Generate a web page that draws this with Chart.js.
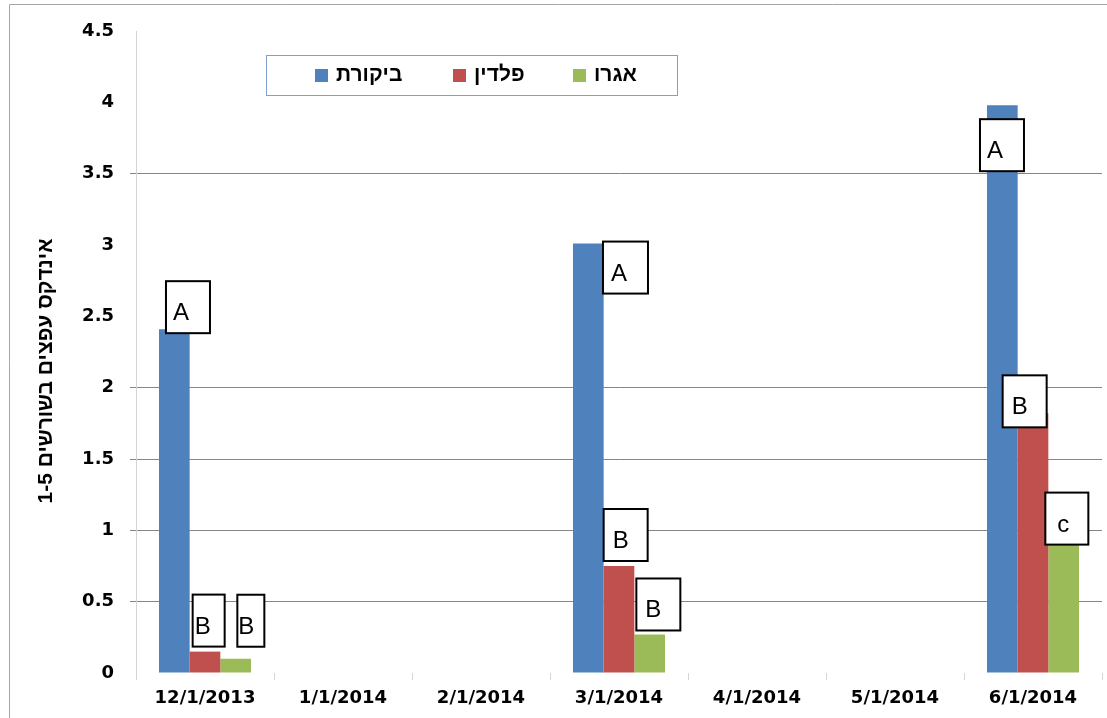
<!DOCTYPE html>
<html>
<head>
<meta charset="utf-8">
<script src="https://cdn.jsdelivr.net/npm/chart.js@4.4.1/dist/chart.umd.min.js"></script>
<style>
  html, body { margin: 0; padding: 0; background: #fff; }
  canvas { display: block; }
</style>
</head>
<body>
<canvas id="galChart" width="1107" height="718"></canvas>
<script>
// categories (months) and series
const dates = ['12/1/2013', '1/1/2014', '2/1/2014', '3/1/2014', '4/1/2014', '5/1/2014', '6/1/2014'];
const seriesNames = ['ביקורת', 'פלדין', 'אגרו'];
const control = [2.41, null, null, 3.01, null, null, 3.98];
const paldin = [0.15, null, null, 0.75, null, null, 1.82];
const agro = [0.1, null, null, 0.27, null, null, 0.9];
const yTicks = [0, 0.5, 1, 1.5, 2, 2.5, 3, 3.5, 4, 4.5];
const yTitle = 'אינדקס עפצים בשורשים 1-5';

// significance letters: [series, month, letter]
const letters = [
    [0, 0, 'A'], [1, 0, 'B'], [2, 0, 'B'],
    [0, 3, 'A'], [1, 3, 'B'], [2, 3, 'B'],
    [0, 6, 'A'], [1, 6, 'B'], [2, 6, 'c']
];

const colors = ['#4f81bd', '#c0504d', '#9bbb59'];
const visibleGrid = [0.5, 1, 1.5, 2, 3.5];
// box placement next to each bar: dx from bar left, dy box bottom from bar top, width, text inset
const boxStyle = [
    { dx: 7, dy: 4, w: 44, tx: 7 }, { dx: 3, dy: -5, w: 32, tx: 2 }, { dx: 17, dy: -12, w: 27, tx: 1 },
    { dx: 30, dy: 50, w: 45, tx: 8 }, { dx: 0, dy: -5, w: 44, tx: 9 }, { dx: 2, dy: -4, w: 44, tx: 9 },
    { dx: -7, dy: 66, w: 44, tx: 7 }, { dx: -15, dy: 14, w: 44, tx: 9 }, { dx: -3, dy: 0, w: 43, tx: 12 }
];

const framePlugin = {
    id: 'frame',
    beforeDraw(chart) {
        const c = chart.ctx;
        c.save();
        c.strokeStyle = '#a6a6a6';
        c.lineWidth = 1;
        c.beginPath();
        c.moveTo(9.5, chart.height);
        c.lineTo(9.5, 4.5);
        c.lineTo(chart.width, 4.5);
        c.stroke();
        c.restore();
    },
    afterDraw(chart) {
        const c = chart.ctx;
        const area = chart.chartArea;
        c.save();
        // y axis title
        c.translate(46, (area.top + area.bottom) / 2 + 19);
        c.rotate(-Math.PI / 2);
        c.font = 'bold 21px "Liberation Sans", Arial, sans-serif';
        c.fillStyle = '#000';
        c.textAlign = 'center';
        c.textBaseline = 'middle';
        c.fillText(yTitle, 0, 0);
        c.restore();

        // legend box inside the plot
        c.save();
        c.fillStyle = '#fff';
        c.fillRect(266, 55, 411, 40);
        c.strokeStyle = '#7f9fcf';
        c.lineWidth = 1;
        c.strokeRect(266.5, 55.5, 411, 40);
        const itemX = [315, 453, 573];
        c.font = 'bold 21px "Liberation Sans", Arial, sans-serif';
        c.textBaseline = 'middle';
        c.textAlign = 'left';
        chart.data.datasets.forEach((ds, i) => {
            c.fillStyle = ds.backgroundColor;
            c.fillRect(itemX[i], 69, 13, 13);
            c.fillStyle = '#000';
            c.fillText(ds.label, itemX[i] + 21, 75);
        });
        c.restore();

        // letter boxes
        c.save();
        c.font = '24px "Liberation Sans", Arial, sans-serif';
        c.textBaseline = 'alphabetic';
        c.textAlign = 'left';
        letters.forEach(([s, m, txt], k) => {
            const bar = chart.getDatasetMeta(s).data[m];
            const st = boxStyle[k];
            const left = bar.x - bar.width / 2 + st.dx;
            const bottom = bar.y + st.dy;
            const top = bottom - 52;
            c.fillStyle = '#fff';
            c.fillRect(left, top, st.w, 52);
            c.strokeStyle = '#000';
            c.lineWidth = 2;
            c.strokeRect(left, top, st.w, 52);
            c.fillStyle = '#000';
            c.fillText(txt, left + st.tx, top + 39);
        });
        c.restore();
    }
};

document.addEventListener('DOMContentLoaded', () => {
    const data = {
        labels: dates,
        datasets: [control, paldin, agro].map((values, i) => ({
            label: seriesNames[i],
            data: values,
            backgroundColor: colors[i],
            borderWidth: 0,
            categoryPercentage: 0.667,
            barPercentage: 1.0
        }))
    };

    const config = {
        type: 'bar',
        data: data,
        options: {
            responsive: false,
            animation: false,
            layout: { padding: { top: 31, right: 5, left: 0, bottom: 0 } },
            plugins: {
                legend: { display: false },
                tooltip: { enabled: false }
            },
            scales: {
                x: {
                    grid: {
                        offset: true,
                        drawOnChartArea: false,
                        drawTicks: true,
                        tickLength: 7,
                        color: '#d4d4d4'
                    },
                    border: { display: false },
                    ticks: {
                        color: '#000',
                        font: { family: '"DejaVu Sans"', size: 18, weight: 'bold' },
                        padding: 8,
                        maxRotation: 0,
                        autoSkip: false
                    },
                    afterFit: (scale) => { scale.height = 45; }
                },
                y: {
                    min: 0,
                    max: 4.5,
                    afterBuildTicks: (scale) => { scale.ticks = yTicks.map(v => ({ value: v })); },
                    grid: {
                        color: (c) => visibleGrid.includes(c.tick.value) ? '#868686' : 'rgba(0,0,0,0)',
                        tickLength: 6
                    },
                    border: { color: '#d4d4d4' },
                    ticks: {
                        color: '#000',
                        font: { family: '"DejaVu Sans"', size: 18, weight: 'bold' },
                        padding: 16,
                        callback: (value) => String(value)
                    },
                    afterFit: (scale) => { scale.width = 136; }
                }
            }
        },
        plugins: [framePlugin]
    };

    const ctx = document.getElementById('galChart').getContext('2d');
    const galChart = new Chart(ctx, config);
});
</script>
</body>
</html>
